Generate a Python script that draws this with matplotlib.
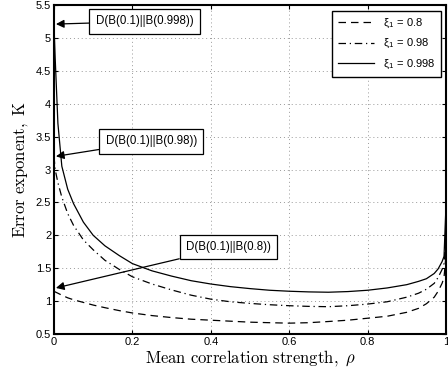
import matplotlib
matplotlib.use("Agg")
import matplotlib.pyplot as plt

plt.rcParams['font.family'] = ['Liberation Sans', 'DejaVu Sans']
plt.rcParams['mathtext.fontset'] = 'cm'

rho = [0, 0.003, 0.01, 0.02, 0.035, 0.05, 0.075, 0.1, 0.13, 0.167, 0.2, 0.25, 0.3,
       0.35, 0.4, 0.45, 0.5, 0.55, 0.6, 0.65, 0.7, 0.75, 0.8, 0.85, 0.9, 0.93,
       0.95, 0.97, 0.98, 0.99, 0.995, 1.0]
k_08 = [1.15, 1.14, 1.12, 1.09, 1.05, 1.02, 0.98, 0.94, 0.90, 0.855, 0.82, 0.78, 0.75,
        0.725, 0.71, 0.695, 0.68, 0.672, 0.665, 0.672, 0.69, 0.71, 0.74, 0.77, 0.83, 0.89,
        0.96, 1.06, 1.15, 1.27, 1.36, 1.7]
k_098 = [3.2, 3.0, 2.8, 2.58, 2.33, 2.15, 1.93, 1.78, 1.62, 1.48, 1.37, 1.26, 1.17,
         1.09, 1.03, 0.99, 0.965, 0.945, 0.93, 0.92, 0.915, 0.93, 0.955, 0.99, 1.06, 1.12,
         1.18, 1.27, 1.36, 1.48, 1.57, 2.0]
k_0998 = [5.2, 4.7, 3.7, 3.05, 2.7, 2.48, 2.2, 2.0, 1.84, 1.69, 1.57, 1.46, 1.38,
          1.31, 1.26, 1.22, 1.19, 1.165, 1.15, 1.14, 1.135, 1.145, 1.165, 1.2, 1.25, 1.3,
          1.34, 1.42, 1.49, 1.6, 1.68, 2.45]
labels = [r'ξ$_\mathregular{1}$ = 0.8', r'ξ$_\mathregular{1}$ = 0.98', r'ξ$_\mathregular{1}$ = 0.998']
ann_texts = ['D(B(0.1)||B(0.998))', 'D(B(0.1)||B(0.98))', 'D(B(0.1)||B(0.8))']
ann_targets = [5.21, 3.2, 1.2]

fig = plt.figure(figsize=(4.48, 3.75), dpi=100)
ax = fig.add_axes([0.1205, 0.1093, 0.875, 0.8774])

ax.plot(rho, k_08, color='black', lw=0.9, linestyle=(0, (6, 4)), label=labels[0])
ax.plot(rho, k_098, color='black', lw=0.9, linestyle=(0, (6, 3, 1, 3)), label=labels[1])
ax.plot(rho, k_0998, color='black', lw=0.9, linestyle='-', label=labels[2])

ax.set_xlim(0, 1)
ax.set_ylim(0.5, 5.5)
ax.set_xticks([0, 0.2, 0.4, 0.6, 0.8, 1])
ax.set_xticklabels(['0', '0.2', '0.4', '0.6', '0.8', '1'])
ax.set_yticks([0.5, 1, 1.5, 2, 2.5, 3, 3.5, 4, 4.5, 5, 5.5])
ax.set_yticklabels(['0.5', '1', '1.5', '2', '2.5', '3', '3.5', '4', '4.5', '5', '5.5'])
ax.tick_params(direction='in', labelsize=8, length=3, top=True, right=True, pad=2)
ax.grid(True, linestyle=(0, (1, 3)), color='#999999', lw=0.7)
for s in ax.spines.values():
    s.set_linewidth(1.5)

ax.set_xlabel(r'$\mathrm{Mean\ correlation\ strength,}\ \rho$', fontsize=12, labelpad=1)
ax.set_ylabel(r'$\mathrm{Error\ exponent,\ K}$', fontsize=12, labelpad=4)

leg = ax.legend(loc='upper right', fontsize=8, handlelength=3.2, fancybox=False,
                edgecolor='black', framealpha=1, borderpad=0.55, labelspacing=0.65,
                borderaxespad=0, bbox_to_anchor=(0.988, 0.982))
leg.get_frame().set_linewidth(1.0)

text_pos = [(0.231, 5.25), (0.248, 3.43), (0.445, 1.82)]
for t, ty, tp in zip(ann_texts, ann_targets, text_pos):
    ax.annotate(t, xy=(0.005, ty), xytext=tp, fontsize=8.3, ha='center', va='center',
                bbox=dict(boxstyle='square,pad=0.55', fc='white', ec='black', lw=0.9),
                arrowprops=dict(arrowstyle='-|>', color='black', lw=0.9,
                                mutation_scale=12, shrinkA=0, shrinkB=0))

fig.savefig('out.png', dpi=100)
